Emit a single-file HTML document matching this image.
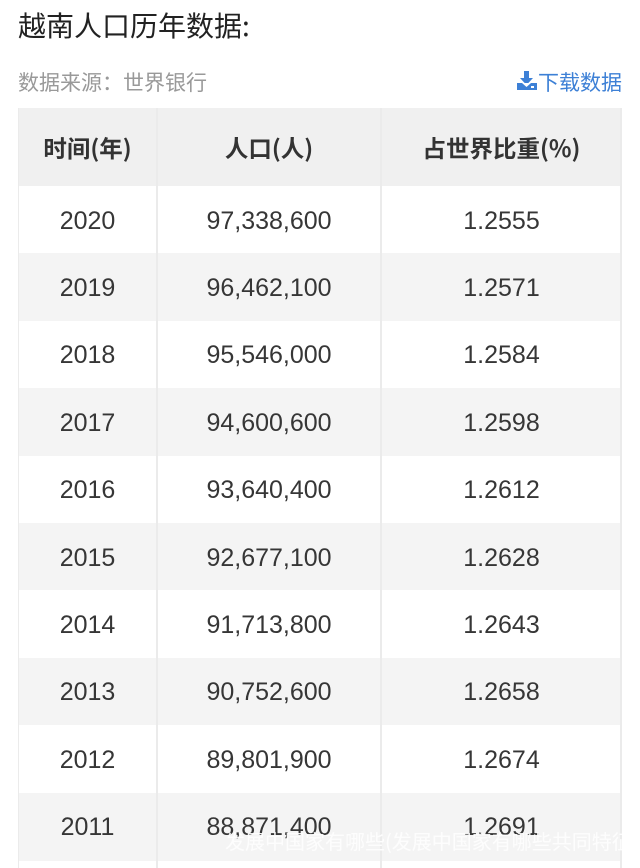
<!DOCTYPE html>
<html><head><meta charset="utf-8">
<style>
html,body{margin:0;padding:0;background:#fff;}
body{width:640px;height:858px;position:relative;overflow:hidden;font-family:"Liberation Sans","Noto Sans CJK SC",sans-serif;}
.abs{position:absolute;}
.title{left:18px;top:6px;font-size:28px;line-height:38px;color:#222;font-family:"Noto Sans CJK SC",sans-serif;white-space:nowrap;}
.sub{left:18px;top:68px;font-size:21px;line-height:28px;color:#999;font-family:"Noto Sans CJK SC",sans-serif;white-space:nowrap;}
.dl{left:538px;top:68px;font-size:21px;line-height:28px;color:#3d80d6;font-family:"Noto Sans CJK SC",sans-serif;white-space:nowrap;}
.hdr{left:18px;top:108px;width:604px;height:78px;background:#f0f0f0;}
.row{left:18px;width:604px;height:68px;}
.g{background:#f4f4f4;}
.w{background:#fff;}
.cell{position:absolute;top:1px;height:100%;display:flex;align-items:center;justify-content:center;color:#363636;font-size:25px;}
.c1{left:0;width:139px;}
.c2{left:139px;width:224px;}
.c3{left:363px;width:241px;}
.h{top:0;font-family:"Noto Sans CJK SC",sans-serif;font-weight:bold;font-size:23.5px;color:#333;}
.vl{top:108px;width:2px;height:760px;background:#ebebeb;}
.wm{left:225px;top:827px;font-size:20px;line-height:28px;color:#fff;opacity:0.9;font-family:"Noto Sans CJK SC",sans-serif;white-space:nowrap;}
</style></head><body>
<div class="abs title">越南人口历年数据:</div>
<div class="abs sub">数据来源：世界银行</div>
<svg class="abs" style="left:516px;top:71px" width="22" height="20" viewBox="0 0 22 20">
<rect x="8" y="0" width="5" height="8" fill="#3d80d6"/>
<polygon points="4,7 17,7 10.5,14" fill="#3d80d6"/>
<rect x="1" y="12" width="20" height="7" fill="#3d80d6"/>
<polygon points="6,12 15,12 10.5,16" fill="#fff"/>
<rect x="15" y="15" width="3" height="2" fill="#fff"/>
</svg>
<div class="abs dl">下载数据</div>

<div class="abs hdr">
<div class="cell c1 h">时间(年)</div>
<div class="cell c2 h">人口(人)</div>
<div class="cell c3 h">占世界比重(%)</div>
</div>

<div class="abs row w" style="top:186px"><div class="cell c1">2020</div><div class="cell c2">97,338,600</div><div class="cell c3">1.2555</div></div>
<div class="abs row g" style="top:253.4px"><div class="cell c1">2019</div><div class="cell c2">96,462,100</div><div class="cell c3">1.2571</div></div>
<div class="abs row w" style="top:320.8px"><div class="cell c1">2018</div><div class="cell c2">95,546,000</div><div class="cell c3">1.2584</div></div>
<div class="abs row g" style="top:388.2px"><div class="cell c1">2017</div><div class="cell c2">94,600,600</div><div class="cell c3">1.2598</div></div>
<div class="abs row w" style="top:455.6px"><div class="cell c1">2016</div><div class="cell c2">93,640,400</div><div class="cell c3">1.2612</div></div>
<div class="abs row g" style="top:523px"><div class="cell c1">2015</div><div class="cell c2">92,677,100</div><div class="cell c3">1.2628</div></div>
<div class="abs row w" style="top:590.4px"><div class="cell c1">2014</div><div class="cell c2">91,713,800</div><div class="cell c3">1.2643</div></div>
<div class="abs row g" style="top:657.8px"><div class="cell c1">2013</div><div class="cell c2">90,752,600</div><div class="cell c3">1.2658</div></div>
<div class="abs row w" style="top:725.2px"><div class="cell c1">2012</div><div class="cell c2">89,801,900</div><div class="cell c3">1.2674</div></div>
<div class="abs row g" style="top:792.6px"><div class="cell c1">2011</div><div class="cell c2">88,871,400</div><div class="cell c3">1.2691</div></div>

<div class="abs vl" style="left:18px;width:1px"></div>
<div class="abs vl" style="left:156px"></div>
<div class="abs vl" style="left:380px"></div>
<div class="abs vl" style="left:620px"></div>

<div class="abs wm">发展中国家有哪些(发展中国家有哪些共同特征</div>
</body></html>
